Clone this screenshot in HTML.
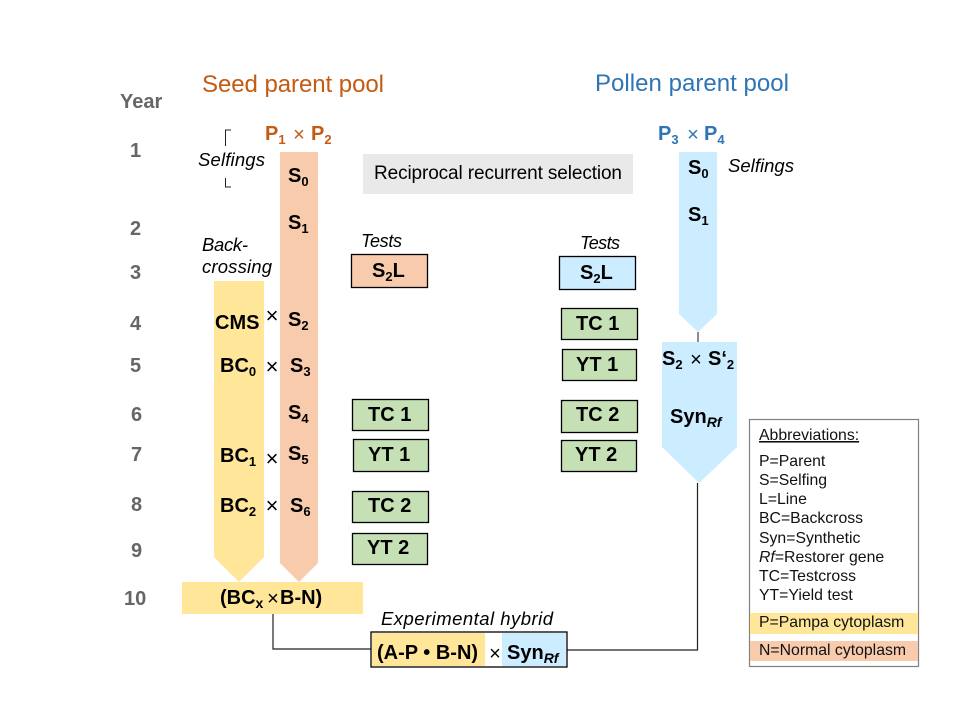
<!DOCTYPE html>
<html><head><meta charset="utf-8"><style>
html,body{margin:0;padding:0;background:#fff}
svg{display:block}
text{font-family:"Liberation Sans",sans-serif;fill:#000}
.b{font-weight:bold;font-size:20px}
.y{font-weight:bold;font-size:20px;fill:#666}
.i{font-style:italic;font-size:18.5px}
.a{font-size:15.8px;fill:#111}
.x{font-size:22px;text-anchor:middle}
.box{stroke:#000;stroke-width:1.3}
.s{font-size:13px}
.r{font-size:14px;font-style:italic}
</style></head><body>
<svg width="960" height="720" viewBox="0 0 960 720" xmlns="http://www.w3.org/2000/svg">
<rect x="363" y="154" width="270" height="40" fill="#E9E9E9"/>
<polygon points="214,281 264,281 264,557 239,582 214,557" fill="#FFE699"/>
<polygon points="280,152 318,152 318,563 299,582 280,563" fill="#F8CBAD"/>
<polygon points="679,152 717,152 717,314 698,332 679,314" fill="#CCECFF"/>
<polygon points="662,342 737,342 737,447 699,483 662,447" fill="#CCECFF"/>
<rect x="182" y="582" width="181" height="32" fill="#FFE699"/>
<path d="M698 332V342" stroke="#666" stroke-width="1.5" fill="none"/>
<path d="M697.500 483V650H567M273 614V649H371" stroke="#222" stroke-width="1.2" fill="none"/>
<path d="M231 130H225.500V146M225.500 178V187H231" stroke="#222" stroke-width="1" fill="none"/>

<rect class="box" x="351.500" y="254.500" width="76" height="33" fill="#F8CBAD"/>
<rect class="box" x="559.500" y="256.500" width="76" height="33" fill="#CCECFF"/>
<g fill="#C5E0B4">
<rect class="box" x="352.500" y="399.500" width="76" height="31"/>
<rect class="box" x="353.500" y="439.500" width="75" height="32"/>
<rect class="box" x="352.500" y="491.500" width="76" height="31"/>
<rect class="box" x="352.500" y="533.500" width="75" height="31"/>
<rect class="box" x="561.500" y="308.500" width="76" height="31"/>
<rect class="box" x="562.500" y="349.500" width="74" height="31"/>
<rect class="box" x="561.500" y="400.500" width="76" height="32"/>
<rect class="box" x="561.500" y="440.500" width="75" height="31"/>
</g>
<rect x="371" y="632" width="196" height="35" fill="#fff" stroke="#000" stroke-width="1.3"/>
<rect x="372" y="633" width="113" height="33" fill="#FFE699"/>
<rect x="502" y="633" width="64" height="33" fill="#CCECFF"/>

<rect x="749.500" y="419.500" width="169" height="247" fill="#fff" stroke="#808080" stroke-width="1.2"/>
<rect x="750" y="613" width="168" height="21" fill="#FFE699"/>
<rect x="750" y="641" width="168" height="20" fill="#F8CBAD"/>

<text x="202" y="92" font-size="24" style="fill:#C55A11" textLength="182">Seed parent pool</text>
<text x="595" y="91" font-size="24" style="fill:#2E75B6" textLength="194">Pollen parent pool</text>

<text class="y" x="120" y="108">Year</text>
<text class="y" x="130" y="157">1</text>
<text class="y" x="130" y="235">2</text>
<text class="y" x="130" y="279">3</text>
<text class="y" x="130" y="330">4</text>
<text class="y" x="130" y="372">5</text>
<text class="y" x="131" y="421">6</text>
<text class="y" x="131" y="461">7</text>
<text class="y" x="131" y="511">8</text>
<text class="y" x="131" y="557">9</text>
<text class="y" x="124" y="605">10</text>

<text class="b" x="265" y="140" style="fill:#C55A11">P<tspan class="s" dy="4">1</tspan></text>
<text class="x" x="299" y="141" style="fill:#C55A11;font-size:20px">×</text>
<text class="b" x="311" y="140" style="fill:#C55A11">P<tspan class="s" dy="4">2</tspan></text>
<text class="b" x="658" y="140" style="fill:#2E75B6">P<tspan class="s" dy="4">3</tspan></text>
<text class="x" x="693" y="141" style="fill:#2E75B6;font-size:20px">×</text>
<text class="b" x="704" y="140" style="fill:#2E75B6">P<tspan class="s" dy="4">4</tspan></text>

<text class="i" x="198" y="166" textLength="67">Selfings</text>
<text class="i" x="202" y="251" textLength="46">Back-</text>
<text class="i" x="202" y="273" textLength="70">crossing</text>
<text class="i" x="361" y="247" textLength="41" style="font-size:18px">Tests</text>
<text class="i" x="580" y="249" textLength="40" style="font-size:18px">Tests</text>
<text class="i" x="728" y="172" textLength="66">Selfings</text>
<text class="i" x="381" y="625" textLength="172">Experimental hybrid</text>

<text x="374" y="179" font-size="19" textLength="248">Reciprocal recurrent selection</text>

<text class="b" x="288" y="182">S<tspan class="s" dy="4">0</tspan></text>
<text class="b" x="288" y="229">S<tspan class="s" dy="4">1</tspan></text>
<text class="b" x="288" y="326">S<tspan class="s" dy="4">2</tspan></text>
<text class="b" x="290" y="372">S<tspan class="s" dy="4">3</tspan></text>
<text class="b" x="288" y="419">S<tspan class="s" dy="4">4</tspan></text>
<text class="b" x="288" y="460">S<tspan class="s" dy="4">5</tspan></text>
<text class="b" x="290" y="512">S<tspan class="s" dy="4">6</tspan></text>
<text class="b" x="688" y="174">S<tspan class="s" dy="4">0</tspan></text>
<text class="b" x="688" y="221">S<tspan class="s" dy="4">1</tspan></text>

<text class="b" x="215" y="329">CMS</text>
<text class="b" x="220" y="372">BC<tspan class="s" dy="4">0</tspan></text>
<text class="b" x="220" y="462">BC<tspan class="s" dy="4">1</tspan></text>
<text class="b" x="220" y="512">BC<tspan class="s" dy="4">2</tspan></text>

<text class="x" x="272" y="323">×</text>
<text class="x" x="272" y="374">×</text>
<text class="x" x="272" y="466">×</text>
<text class="x" x="272" y="513">×</text>

<text class="b" x="372" y="277">S<tspan class="s" dy="4">2</tspan><tspan dy="-4">L</tspan></text>
<text class="b" x="580" y="279">S<tspan class="s" dy="4">2</tspan><tspan dy="-4">L</tspan></text>
<text class="b" x="368" y="421">TC 1</text>
<text class="b" x="368" y="461">YT 1</text>
<text class="b" x="368" y="512">TC 2</text>
<text class="b" x="367" y="554">YT 2</text>
<text class="b" x="576" y="330">TC 1</text>
<text class="b" x="576" y="371">YT 1</text>
<text class="b" x="576" y="421">TC 2</text>
<text class="b" x="575" y="461">YT 2</text>

<text class="b" x="662" y="365">S<tspan class="s" dy="4">2</tspan></text>
<text class="x" x="696" y="366" style="font-size:20px">×</text>
<text class="b" x="708" y="365">S‘<tspan class="s" dy="4">2</tspan></text>
<text class="b" x="670" y="423">Syn<tspan class="r" dy="4">Rf</tspan></text>

<text class="b" x="220" y="604">(BC<tspan style="font-size:14px" dy="4">x</tspan></text>
<text class="x" x="273" y="605" style="font-size:20px">×</text>
<text class="b" x="280" y="604">B-N)</text>
<text class="b" x="377" y="659">(A-P • B-N)</text>
<text class="x" x="495" y="660" style="font-size:20px">×</text>
<text class="b" x="507" y="659">Syn<tspan class="r" dy="4">Rf</tspan></text>

<text class="a" x="759" y="440" text-decoration="underline">Abbreviations:</text>
<text class="a" x="759" y="466">P=Parent</text>
<text class="a" x="759" y="485">S=Selfing</text>
<text class="a" x="759" y="504">L=Line</text>
<text class="a" x="759" y="523">BC=Backcross</text>
<text class="a" x="759" y="543">Syn=Synthetic</text>
<text class="a" x="759" y="562"><tspan font-style="italic">Rf</tspan>=Restorer gene</text>
<text class="a" x="759" y="581">TC=Testcross</text>
<text class="a" x="759" y="600">YT=Yield test</text>
<text class="a" x="759" y="627">P=Pampa cytoplasm</text>
<text class="a" x="759" y="655">N=Normal cytoplasm</text>
</svg>
</body></html>
